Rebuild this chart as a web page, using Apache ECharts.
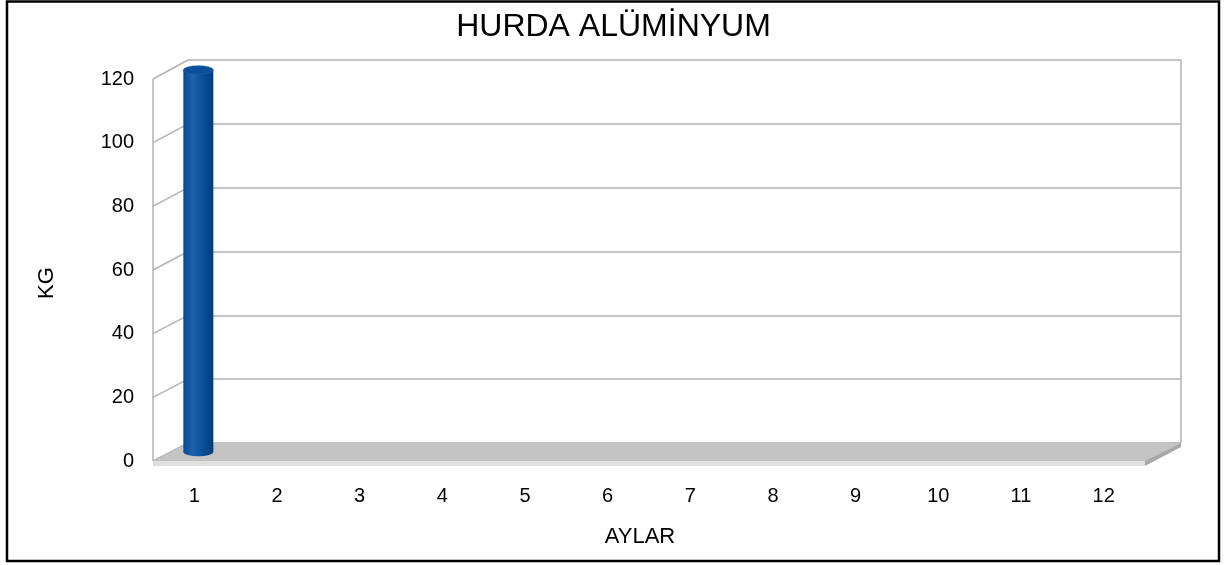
<!DOCTYPE html>
<html>
<head>
<meta charset="utf-8">
<script src="https://cdn.jsdelivr.net/npm/echarts@6/dist/echarts.min.js"></script>
<style>
html,body{margin:0;padding:0;background:#fff;}
#chart{width:1227px;height:565px;}
</style>
</head>
<body>
<div id="chart"></div>
<script>
// ---- data ----
const chartTitle = 'HURDA ALÜMİNYUM';
const yAxisName = 'KG';
const xAxisName = 'AYLAR';
const months = ['1','2','3','4','5','6','7','8','9','10','11','12'];
const kgValues = [120, null, null, null, null, null, null, null, null, null, null, null];
const yMin = 0, yMax = 120, yStep = 20;

// ---- layout ----
const FONT = "'Liberation Sans', Arial, sans-serif";
const front = {left: 153, right: 1145, top: 79, bottom: 461};
const back  = {left: 188, right: 1181, top: 60, bottom: 443};
const mid   = {left: 157, right: 1149, top: 70, bottom: 452};
const W = 1227, H = 565;

const chart = echarts.init(document.getElementById('chart'), null, {renderer: 'canvas'});

function gridOf(r) {
  return {left: r.left, right: W - r.right, top: r.top, bottom: H - r.bottom, containLabel: false};
}

const hidden = {show: false};

chart.setOption({
  backgroundColor: '#ffffff',
  animation: false,
  title: {
    text: chartTitle, left: 'center', top: 6,
    textStyle: {fontFamily: FONT, fontSize: 32, fontWeight: 'normal', color: '#000'}
  },
  grid: [gridOf(front), gridOf(back), gridOf(mid)],
  xAxis: [
    {type: 'category', gridIndex: 0, data: months, axisLine: hidden, axisTick: hidden,
     axisLabel: {fontFamily: FONT, fontSize: 20, color: '#000', margin: 25}},
    {type: 'category', gridIndex: 1, data: months, show: false},
    {type: 'category', gridIndex: 2, data: months, show: false}
  ],
  yAxis: [
    {type: 'value', gridIndex: 0, min: yMin, max: yMax, interval: yStep,
     axisLine: hidden, axisTick: hidden, splitLine: hidden,
     axisLabel: {fontFamily: FONT, fontSize: 20, color: '#000', margin: 19}},
    {type: 'value', gridIndex: 1, min: yMin, max: yMax, interval: yStep,
     axisLine: hidden, axisTick: hidden, axisLabel: hidden,
     splitLine: {show: true, lineStyle: {color: '#b3b3b3', width: 1.5}}},
    {type: 'value', gridIndex: 2, min: yMin, max: yMax, interval: yStep, show: false}
  ],
  series: [{
    type: 'custom',
    xAxisIndex: 2, yAxisIndex: 2,
    z: 10,
    data: months.map((m, i) => [i, kgValues[i] == null ? 0 : kgValues[i]]),
    renderItem: function (params, api) {
      const v = api.value(1);
      if (!v) return null;
      const top = api.coord([api.value(0), v]);
      const base = api.coord([api.value(0), 0]);
      const w = 30, rx = w / 2, sy = 0.28;
      const cx = top[0];
      const bodyGrad = new echarts.graphic.LinearGradient(0, 0, 1, 0, [
        {offset: 0, color: '#084a90'},
        {offset: 0.3, color: '#1f62ae'},
        {offset: 0.6, color: '#0c529e'},
        {offset: 1, color: '#003c7c'}
      ]);
      return {
        type: 'group',
        children: [
          {type: 'circle', shape: {cx: 0, cy: 0, r: rx}, x: cx, y: base[1], scaleY: sy,
           style: {fill: bodyGrad}},
          {type: 'rect', shape: {x: cx - rx, y: top[1], width: w, height: base[1] - top[1]},
           style: {fill: bodyGrad}},
          {type: 'circle', shape: {cx: 0, cy: 0, r: rx}, x: cx, y: top[1], scaleY: sy,
           style: {fill: '#0a4f9c', stroke: '#1f60aa', lineWidth: 1}}
        ]
      };
    }
  }]
});

// ---- 3D frame (walls & floor) derived from the axes ----
function yF(v) { return chart.convertToPixel({yAxisIndex: 0}, v); }
function yB(v) { return chart.convertToPixel({yAxisIndex: 1}, v); }

const wall = [];
const lineStyle = {stroke: '#b3b3b3', lineWidth: 1.5};
wall.push({type: 'line', z: 1, shape: {x1: front.left, y1: yF(yMax), x2: front.left, y2: yF(yMin)}, style: lineStyle});
for (let v = yMin; v <= yMax; v += yStep) {
  wall.push({type: 'line', z: 1, shape: {x1: front.left, y1: yF(v), x2: back.left, y2: yB(v)}, style: lineStyle});
}
wall.push({type: 'line', z: 1, shape: {x1: back.right, y1: yB(yMax), x2: back.right, y2: yB(yMin)}, style: lineStyle});
const f0 = yF(yMin), b0 = yB(yMin), th = 5;
wall.push({type: 'polygon', z: 2, shape: {points: [[front.left, f0], [front.right, f0], [back.right, b0], [back.left, b0]]},
  style: {fill: '#c4c4c4', stroke: '#b8b8b8', lineWidth: 0.5}});
wall.push({type: 'polygon', z: 2, shape: {points: [[front.left, f0], [front.right, f0], [front.right, f0 + th], [front.left, f0 + th]]},
  style: {fill: '#e0e0e0'}});
wall.push({type: 'polygon', z: 2, shape: {points: [[front.right, f0], [back.right, b0], [back.right, b0 + th - 1], [front.right, f0 + th]]},
  style: {fill: '#a8a8a8'}});
wall.push({type: 'text', z: 5, x: 47, y: 283, rotation: Math.PI / 2,
  style: {text: yAxisName, font: '22px ' + FONT, fill: '#000', align: 'center', verticalAlign: 'middle'}});
wall.push({type: 'text', z: 5, x: 640, y: 537,
  style: {text: xAxisName, font: '22px ' + FONT, fill: '#000', align: 'center', verticalAlign: 'middle'}});
wall.push({type: 'rect', z: 100, shape: {x: 7, y: 1.5, width: 1212, height: 559.5},
  style: {fill: null, stroke: '#000', lineWidth: 2.5}});

chart.setOption({graphic: {elements: wall}});
</script>
</body>
</html>
